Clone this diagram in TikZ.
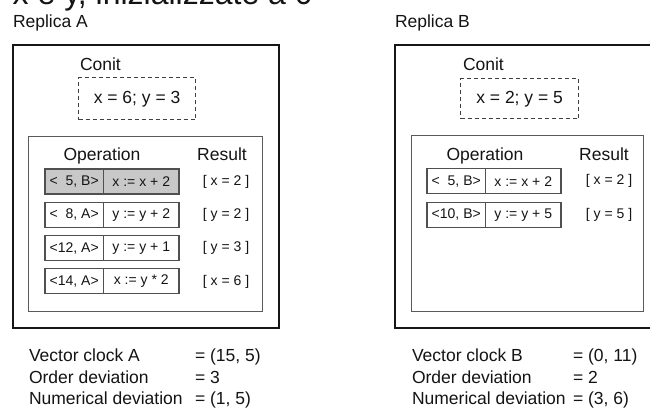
\documentclass[tikz,border=0pt]{standalone}
\usepackage{fontspec}
\setmainfont{Liberation Sans}
\definecolor{txt}{HTML}{141414}
\definecolor{edge}{HTML}{161616}
\definecolor{inedge}{HTML}{5A5A5A}
\definecolor{celledge}{HTML}{505050}
\definecolor{shade}{HTML}{C8C8C8}
\begin{document}
\begin{tikzpicture}[x=1pt,y=-1pt,
  lbl/.style={font=\fontsize{17.5}{21}\selectfont, text=txt, inner sep=0pt, outer sep=0pt},
  small/.style={font=\fontsize{14}{16}\selectfont, text=txt, inner sep=0pt, outer sep=0pt},
  outerbox/.style={draw=edge, line width=2.4pt},
  innerbox/.style={draw=inedge, line width=1.4pt},
  conitbox/.style={draw=black!75, dash pattern=on 4pt off 3pt, line width=1.2pt},
  cellbox/.style={draw=celledge, line width=1.1pt, minimum height=25pt, inner sep=0pt, outer sep=0pt, small},
  tagcell/.style={cellbox, minimum width=58.5pt},
  opcell/.style={cellbox, minimum width=75.5pt},
  shaded/.style={fill=shade}]
\useasboundingbox (0,0) rectangle (650,407);
\clip (0,0) rectangle (650,407);
\fill[white] (0,0) rectangle (650,407);

% clipped heading at the top
\node[font=\fontsize{32}{36}\selectfont, text=txt, inner sep=0pt, anchor=base west] (head) at (-7,4) {r x e y, inizializzate a 0};

% ---------------- Replica A ----------------
\node[lbl, anchor=base west] (repA) at (13,27.3) {Replica A};
\node[outerbox, minimum width=266pt, minimum height=283pt, inner sep=0pt, anchor=north west] (outA) at (12,44) {};
\node[lbl, anchor=base west] (conitA) at (80,70) {Conit};
\node[conitbox, minimum width=117pt, minimum height=42pt, anchor=north west] (cbA) at (78,77) {};
\node[lbl, anchor=base] (cvA) at (cbA.center |- 0,103.3) {x = 6; y = 3};
\node[innerbox, minimum width=234pt, minimum height=175pt, anchor=north west] (inA) at (28,136) {};
\node[lbl, anchor=base] (opA) at (102,160) {Operation};
\node[lbl, anchor=base] (resA) at (222,160) {Result};

\node[tagcell, shaded, anchor=west] (a1t) at (45,181.5) {<\phantom{1}5, B>};
\node[opcell, shaded, anchor=west] (a1o) at (a1t.east) {x := x + 2};
\node[small] (a1r) at (226,181.5) {[ x = 2 ]};

\node[tagcell, anchor=west] (a2t) at (45,214.8) {<\phantom{1}8, A>};
\node[opcell, anchor=west] (a2o) at (a2t.east) {y := y + 2};
\node[small] (a2r) at (226,214.8) {[ y = 2 ]};

\node[tagcell, anchor=west] (a3t) at (45,248.1) {<12, A>};
\node[opcell, anchor=west] (a3o) at (a3t.east) {y := y + 1};
\node[small] (a3r) at (226,248.1) {[ y = 3 ]};

\node[tagcell, anchor=west] (a4t) at (45,281.4) {<14, A>};
\node[opcell, anchor=west] (a4o) at (a4t.east) {x := y * 2};
\node[small] (a4r) at (226,281.4) {[ x = 6 ]};

\node[lbl, anchor=base west] (vcA) at (29,361.7) {Vector clock A};
\node[lbl, anchor=base west] (odA) at (29,383) {Order deviation};
\node[lbl, anchor=base west] (ndA) at (29,404.3) {Numerical deviation};
\node[lbl, anchor=base west] (vcAv) at (195,361.7) {= (15, 5)};
\node[lbl, anchor=base west] (odAv) at (195,383) {= 3};
\node[lbl, anchor=base west] (ndAv) at (195,404.3) {= (1, 5)};

% ---------------- Replica B ----------------
\node[lbl, anchor=base west] (repB) at (395,27.3) {Replica B};
\node[outerbox, minimum width=268pt, minimum height=283pt, inner sep=0pt, anchor=north west] (outB) at (394,44) {};
\node[lbl, anchor=base west] (conitB) at (463,70) {Conit};
\node[conitbox, minimum width=118pt, minimum height=40pt, anchor=north west] (cbB) at (460,78) {};
\node[lbl, anchor=base] (cvB) at (cbB.center |- 0,103.3) {x = 2; y = 5};
\node[innerbox, minimum width=232pt, minimum height=176pt, anchor=north west] (inB) at (411,135) {};
\node[lbl, anchor=base] (opB) at (485,160) {Operation};
\node[lbl, anchor=base] (resB) at (604,160) {Result};

\node[tagcell, anchor=west] (b1t) at (427,181.3) {<\phantom{1}5, B>};
\node[opcell, anchor=west] (b1o) at (b1t.east) {x := x + 2};
\node[small] (b1r) at (609,181.3) {[ x = 2 ]};

\node[tagcell, anchor=west] (b2t) at (427,215) {<10, B>};
\node[opcell, anchor=west] (b2o) at (b2t.east) {y := y + 5};
\node[small] (b2r) at (609,215) {[ y = 5 ]};

\node[lbl, anchor=base west] (vcB) at (412,361.7) {Vector clock B};
\node[lbl, anchor=base west] (odB) at (412,383) {Order deviation};
\node[lbl, anchor=base west] (ndB) at (412,404.3) {Numerical deviation};
\node[lbl, anchor=base west] (vcBv) at (573,361.7) {= (0, 11)};
\node[lbl, anchor=base west] (odBv) at (573,383) {= 2};
\node[lbl, anchor=base west] (ndBv) at (573,404.3) {= (3, 6)};
\end{tikzpicture}
\end{document}
